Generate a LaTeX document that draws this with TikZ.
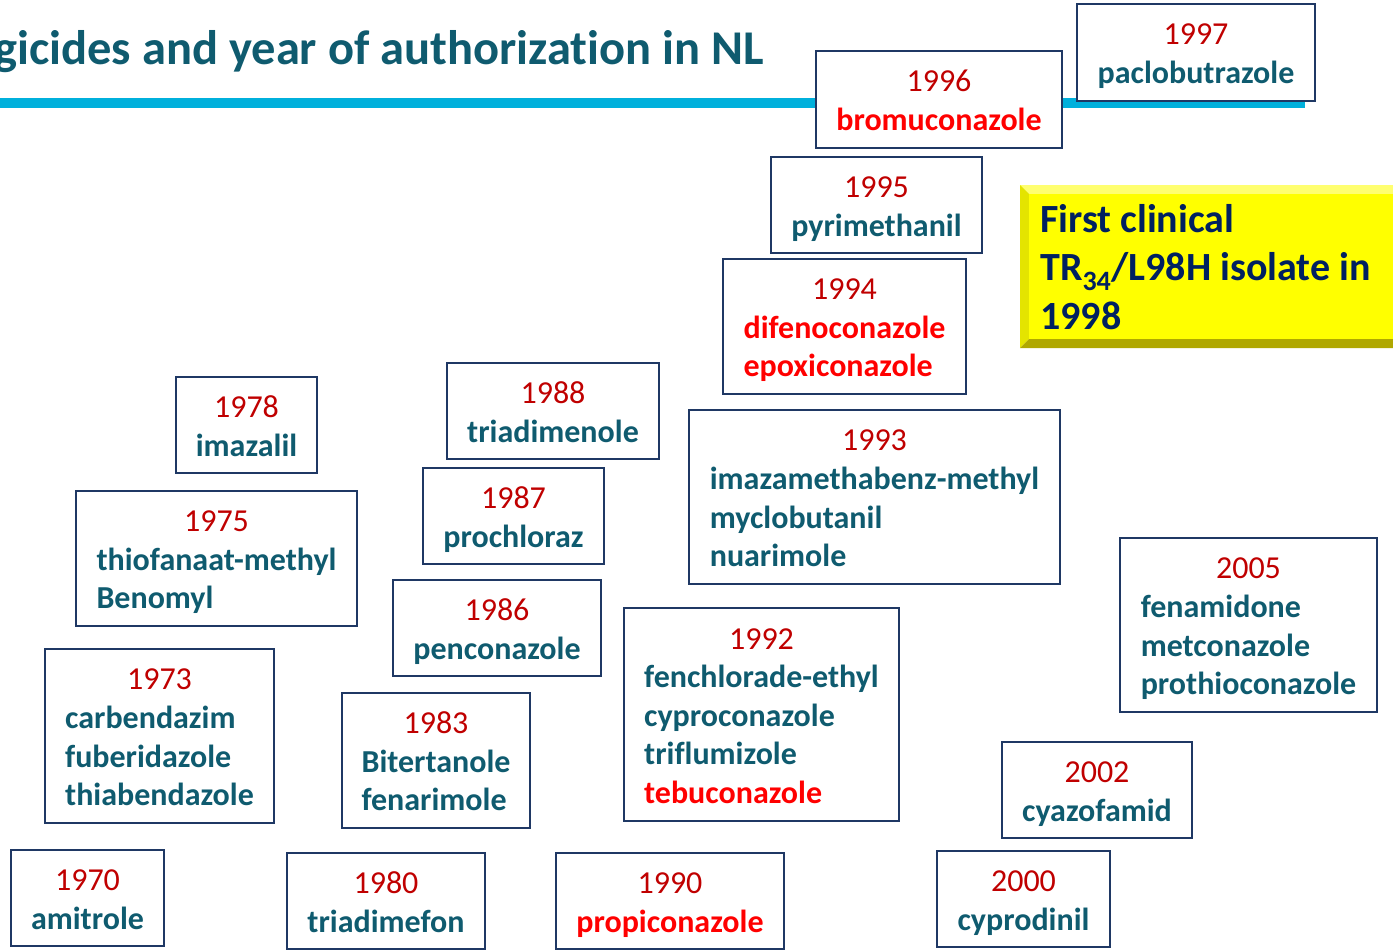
\documentclass[tikz,border=0pt]{standalone}
\usepackage{fontspec}
\setmainfont{Carlito}[Ligatures=NoCommon]
\definecolor{yrred}{HTML}{C00000}
\definecolor{nmteal}{HTML}{0F5B6F}
\definecolor{brred}{HTML}{FF0000}
\definecolor{boxnavy}{HTML}{1F3864}
\definecolor{barcyan}{HTML}{00B0DC}
\definecolor{ynavy}{HTML}{002060}
\definecolor{yfill}{HTML}{FFFF00}
\definecolor{ytop}{HTML}{FFFF70}
\definecolor{yleft}{HTML}{E4E400}
\definecolor{ybot}{HTML}{B0A800}
\newcommand\Yr[1]{\textcolor{yrred}{#1}}
\newcommand\Nm[1]{\textcolor{nmteal}{\bfseries #1}}
\newcommand\Nr[1]{\textcolor{brred}{\bfseries #1}}
\newcommand\Entry[2]{\raisebox{-4pt}[\height][\depth]{\begin{tabular}{@{}l@{}}\multicolumn{1}{@{}c@{}}{\Yr{#1}}\\#2\end{tabular}}}
\tikzset{
  ybox/.style={draw=boxnavy, line width=2pt, fill=white, inner sep=0pt,
    font=\fontsize{32}{38.6}\selectfont},
  titletext/.style={font=\fontsize{48.5}{58}\selectfont\bfseries, text=nmteal, inner sep=0pt},
  yellowtext/.style={font=\fontsize{40}{48.5}\selectfont\bfseries, text=ynavy, align=left, inner sep=0pt}
}
\begin{document}
\begin{tikzpicture}[x=1pt,y=-1pt]
\useasboundingbox (0,0) rectangle (1393,950);
\clip (0,0) rectangle (1393,950);
% title and bar
\node[titletext, anchor=base east] (title) at (764,65) {Fungicides and year of authorization in NL};
\fill[barcyan] (0,98) rectangle (1305,108);
% yellow bevel box
\fill[ytop] (1020,185) -- (1400,185) -- (1400,194) -- (1029,194) -- cycle;
\fill[yleft] (1020,185) -- (1029,194) -- (1029,339) -- (1020,348) -- cycle;
\fill[ybot] (1020,348) -- (1029,339) -- (1400,339) -- (1400,348) -- cycle;
\fill[yfill] (1029,194) rectangle (1400,339);
\node[yellowtext, anchor=west] (tr) at (1040,267) {First clinical\\TR\textsubscript{34}/L98H isolate in\\1998};
% boxes
\node[ybox, minimum width=238, minimum height=97] (b1997) at (1196,52.5) {\Entry{1997}{\Nm{paclobutrazole}}};
\node[ybox, minimum width=246, minimum height=97] (b1996) at (939,99.5) {\Entry{1996}{\Nr{bromuconazole}}};
\node[ybox, minimum width=211, minimum height=96] (b1995) at (876.5,205) {\Entry{1995}{\Nm{pyrimethanil}}};
\node[ybox, minimum width=243, minimum height=135] (b1994) at (844.5,326.5) {\Entry{1994}{\Nr{difenoconazole}\\\Nr{epoxiconazole}}};
\node[ybox, minimum width=371, minimum height=174] (b1993) at (874.5,497) {\Entry{1993}{\Nm{imazamethabenz-methyl}\\\Nm{myclobutanil}\\\Nm{nuarimole}}};
\node[ybox, minimum width=212, minimum height=96] (b1988) at (553,411) {\Entry{1988}{\Nm{triadimenole}}};
\node[ybox, minimum width=181, minimum height=96] (b1987) at (513.5,516) {\Entry{1987}{\Nm{prochloraz}}};
\node[ybox, minimum width=208, minimum height=96] (b1986) at (497,628) {\Entry{1986}{\Nm{penconazole}}};
\node[ybox, minimum width=188, minimum height=135] (b1983) at (436,760.5) {\Entry{1983}{\Nm{Bitertanole}\\\Nm{fenarimole}}};
\node[ybox, minimum width=198, minimum height=96] (b1980) at (386,901) {\Entry{1980}{\Nm{triadimefon}}};
\node[ybox, minimum width=141, minimum height=96] (b1978) at (246.5,425) {\Entry{1978}{\Nm{imazalil}}};
\node[ybox, minimum width=281, minimum height=135] (b1975) at (216.5,558.5) {\Entry{1975}{\Nm{thiofanaat-methyl}\\\Nm{Benomyl}}};
\node[ybox, minimum width=229, minimum height=174] (b1973) at (159.5,736) {\Entry{1973}{\Nm{carbendazim}\\\Nm{fuberidazole}\\\Nm{thiabendazole}}};
\node[ybox, minimum width=153, minimum height=96] (b1970) at (87.5,898) {\Entry{1970}{\Nm{amitrole}}};
\node[ybox, minimum width=228, minimum height=96] (b1990) at (670,901) {\Entry{1990}{\Nr{propiconazole}}};
\node[ybox, minimum width=275, minimum height=213] (b1992) at (761.5,714.5) {\Entry{1992}{\Nm{fenchlorade-ethyl}\\\Nm{cyproconazole}\\\Nm{triflumizole}\\\Nr{tebuconazole}}};
\node[ybox, minimum width=173, minimum height=96] (b2000) at (1023.5,899) {\Entry{2000}{\Nm{cyprodinil}}};
\node[ybox, minimum width=190, minimum height=96] (b2002) at (1097,790) {\Entry{2002}{\Nm{cyazofamid}}};
\node[ybox, minimum width=257, minimum height=174] (b2005) at (1248.5,625) {\Entry{2005}{\Nm{fenamidone}\\\Nm{metconazole}\\\Nm{prothioconazole}}};
\end{tikzpicture}
\end{document}
